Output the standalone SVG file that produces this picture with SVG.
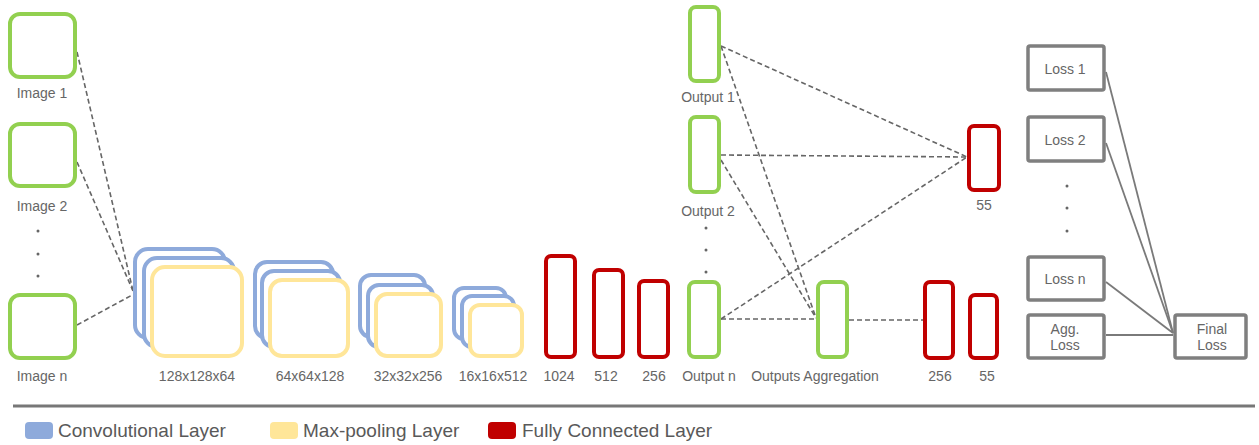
<svg xmlns="http://www.w3.org/2000/svg" width="1259" height="445" viewBox="0 0 1259 445">
<defs>
<style>
.g{fill:#fff;stroke:#92d050;stroke-width:4}
.c{fill:#fff;stroke:#8eaadb;stroke-width:4}
.p{fill:#fff;stroke:#ffe699;stroke-width:4}
.r{fill:#fff;stroke:#c00000;stroke-width:4}
.l{fill:#fff;stroke:#7f7f7f;stroke-width:3.5}
.d{fill:none;stroke:#666;stroke-width:1.6;stroke-dasharray:5 3}
.s{fill:none;stroke:#7a7a7a;stroke-width:1.8}
.t{font-family:"Liberation Sans",Arial,sans-serif;font-size:14px;fill:#666;text-anchor:middle}
.lg{font-family:"Liberation Sans",Arial,sans-serif;font-size:19px;fill:#595959}
.dot{fill:#666}
</style>
</defs>
<rect width="1259" height="445" fill="#fff"/>

<g id="connectors">
<line class="d" x1="77" y1="52" x2="133" y2="291"/>
<line class="d" x1="77" y1="162" x2="133" y2="291"/>
<line class="d" x1="77" y1="325" x2="134" y2="294"/>
<line class="d" x1="721" y1="46" x2="967" y2="157"/>
<line class="d" x1="721" y1="155" x2="967" y2="157"/>
<line class="d" x1="721" y1="319" x2="967" y2="157"/>
<line class="d" x1="721" y1="46" x2="816" y2="318"/>
<line class="d" x1="721" y1="160" x2="816" y2="318"/>
<line class="d" x1="721" y1="319" x2="816" y2="319"/>
<line class="d" x1="849" y1="320" x2="923" y2="320"/>
<line class="s" x1="1106" y1="72" x2="1173" y2="333"/>
<line class="s" x1="1106" y1="143" x2="1173" y2="333"/>
<line class="s" x1="1106" y1="282" x2="1173" y2="333"/>
<line class="s" x1="1106" y1="335" x2="1173" y2="335"/>
</g>

<g id="image1"><rect class="g" x="10" y="14" width="65" height="63" rx="10"/><text class="t" x="42" y="98">Image 1</text></g>
<g id="image2"><rect class="g" x="10" y="124" width="65" height="62" rx="10"/><text class="t" x="42" y="211">Image 2</text></g>
<g id="image-dots"><circle class="dot" cx="38" cy="231" r="1.5"/><circle class="dot" cx="38" cy="254" r="1.5"/><circle class="dot" cx="38" cy="276" r="1.5"/></g>
<g id="imagen"><rect class="g" x="10" y="295" width="65" height="63" rx="10"/><text class="t" x="42" y="381">Image n</text></g>

<g id="conv1">
<rect class="c" x="135" y="249" width="90" height="89" rx="13"/>
<rect class="c" x="144" y="258" width="90" height="89" rx="13"/>
<rect class="p" x="152" y="267" width="90" height="89" rx="13"/>
<text class="t" x="197" y="381">128x128x64</text>
</g>
<g id="conv2">
<rect class="c" x="255" y="262" width="78" height="76" rx="12"/>
<rect class="c" x="262" y="271" width="78" height="76" rx="12"/>
<rect class="p" x="270" y="280" width="78" height="76" rx="12"/>
<text class="t" x="310" y="381">64x64x128</text>
</g>
<g id="conv3">
<rect class="c" x="360" y="275" width="65" height="62" rx="11"/>
<rect class="c" x="368" y="285" width="65" height="62" rx="11"/>
<rect class="p" x="376" y="294" width="65" height="62" rx="11"/>
<text class="t" x="408" y="381">32x32x256</text>
</g>
<g id="conv4">
<rect class="c" x="454" y="288" width="52" height="51" rx="10"/>
<rect class="c" x="462" y="296" width="52" height="51" rx="10"/>
<rect class="p" x="470" y="305" width="52" height="51" rx="10"/>
<text class="t" x="493" y="381">16x16x512</text>
</g>

<g id="fc1024"><rect class="r" x="546" y="256" width="29" height="101" rx="5"/><text class="t" x="559" y="381">1024</text></g>
<g id="fc512"><rect class="r" x="594" y="270" width="29" height="87" rx="5"/><text class="t" x="606" y="381">512</text></g>
<g id="fc256"><rect class="r" x="639" y="281" width="29" height="76" rx="5"/><text class="t" x="654" y="381">256</text></g>

<g id="output1"><rect class="g" x="690" y="7" width="29" height="74" rx="6"/><text class="t" x="708" y="102">Output 1</text></g>
<g id="output2"><rect class="g" x="690" y="117" width="29" height="75" rx="6"/><text class="t" x="708" y="216">Output 2</text></g>
<g id="output-dots"><circle class="dot" cx="706" cy="228" r="1.5"/><circle class="dot" cx="706" cy="250" r="1.5"/><circle class="dot" cx="706" cy="272" r="1.5"/></g>
<g id="outputn"><rect class="g" x="689" y="282" width="30" height="75" rx="6"/><text class="t" x="709" y="381">Output n</text></g>
<g id="aggregation"><rect class="g" x="818" y="282" width="29" height="75" rx="6"/><text class="t" x="815" y="381">Outputs Aggregation</text></g>

<g id="fc55top"><rect class="r" x="969" y="126" width="30" height="64" rx="5"/><text class="t" x="984" y="210">55</text></g>
<g id="fc256b"><rect class="r" x="925" y="282" width="28" height="76" rx="5"/><text class="t" x="940" y="381">256</text></g>
<g id="fc55b"><rect class="r" x="970" y="295" width="27" height="63" rx="5"/><text class="t" x="987" y="381">55</text></g>

<g id="loss1"><rect class="l" x="1028" y="46" width="76" height="44" rx="2"/><text class="t" x="1065" y="74">Loss 1</text></g>
<g id="loss2"><rect class="l" x="1028" y="117" width="76" height="44" rx="2"/><text class="t" x="1065" y="145">Loss 2</text></g>
<g id="loss-dots"><circle class="dot" cx="1067" cy="186" r="1.5"/><circle class="dot" cx="1067" cy="208" r="1.5"/><circle class="dot" cx="1067" cy="231" r="1.5"/></g>
<g id="lossn"><rect class="l" x="1028" y="257" width="76" height="43" rx="2"/><text class="t" x="1065" y="284">Loss n</text></g>
<g id="aggloss"><rect class="l" x="1028" y="315" width="76" height="43" rx="2"/><text class="t" x="1065" y="334">Agg.</text><text class="t" x="1065" y="350">Loss</text></g>
<g id="finalloss"><rect class="l" x="1175" y="315" width="71" height="43" rx="2"/><text class="t" x="1212" y="334">Final</text><text class="t" x="1212" y="350">Loss</text></g>

<g id="legend">
<line x1="13" y1="406" x2="1255" y2="406" stroke="#777" stroke-width="3"/>
<rect x="25" y="422" width="28" height="17" rx="4" fill="#8eaadb"/>
<text class="lg" x="58" y="437">Convolutional Layer</text>
<rect x="270" y="422" width="28" height="17" rx="4" fill="#ffe699"/>
<text class="lg" x="303" y="437">Max-pooling Layer</text>
<rect x="488" y="422" width="28" height="17" rx="4" fill="#c00000"/>
<text class="lg" x="522" y="437">Fully Connected Layer</text>
</g>
</svg>
